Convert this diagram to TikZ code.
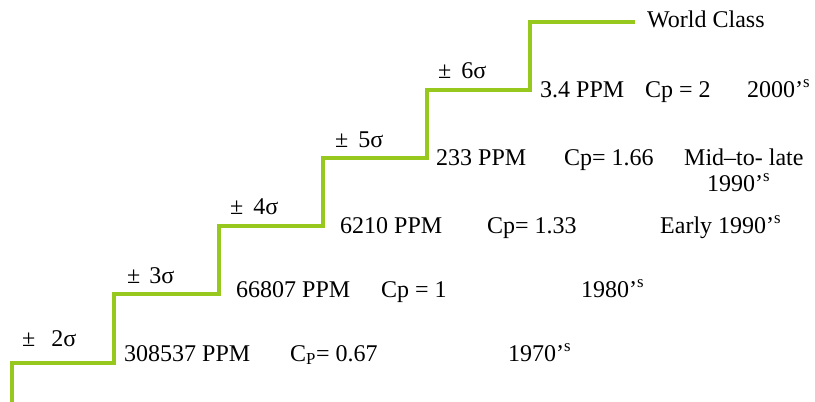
\documentclass[tikz,border=0pt]{standalone}
\usepackage{fontspec}
\setmainfont{Liberation Serif}
\definecolor{stairgreen}{RGB}{150,200,30}
\begin{document}
\begin{tikzpicture}[x=1pt,y=-1pt,
  lbl/.style={anchor=base west,inner sep=0pt,font=\fontsize{24}{28}\selectfont},
  stair/.style={draw=stairgreen,line width=3.2pt,line join=miter}]
\useasboundingbox (0,0) rectangle (815,402);
% staircase
\coordinate (s0) at (12,402);
\coordinate (s1) at (12,363);
\coordinate (s2) at (114,363);
\coordinate (s3) at (114,294);
\coordinate (s4) at (219,294);
\coordinate (s5) at (219,226);
\coordinate (s6) at (323,226);
\coordinate (s7) at (323,158);
\coordinate (s8) at (427,158);
\coordinate (s9) at (427,90);
\coordinate (s10) at (530,90);
\coordinate (s11) at (530,22);
\coordinate (s12) at (635,22);
\draw[stair] (s0) -- (s1) -- (s2) -- (s3) -- (s4) -- (s5) -- (s6) -- (s7) -- (s8) -- (s9) -- (s10) -- (s11) -- (s12);
% sigma labels
\node[lbl] (sg2) at (22,346) {±\hspace{16pt}2σ};
\node[lbl] (sg3) at (127,283) {±\hspace{9pt}3σ};
\node[lbl] (sg4) at (230,214) {±\hspace{10pt}4σ};
\node[lbl] (sg5) at (335,147) {±\hspace{10pt}5σ};
\node[lbl] (sg6) at (438,78) {±\hspace{10pt}6σ};
% row 1
\node[lbl] (p2) at (124,361) {308537 PPM};
\node[lbl] (c2) at (290,361) {C\textsubscript{P}= 0.67};
\node[lbl] (y2) at (508,361) {1970’\textsuperscript{s}};
% row 2
\node[lbl] (p3) at (236,297) {66807 PPM};
\node[lbl] (c3) at (381,297) {Cp = 1};
\node[lbl] (y3) at (581,297) {1980’\textsuperscript{s}};
% row 3
\node[lbl] (p4) at (340,233) {6210 PPM};
\node[lbl] (c4) at (487,233) {Cp= 1.33};
\node[lbl] (y4) at (660,233) {Early 1990’\textsuperscript{s}};
% row 4
\node[lbl] (p5) at (436,165) {233 PPM};
\node[lbl] (c5) at (564,165) {Cp= 1.66};
\node[lbl] (y5a) at (684,165) {Mid–to- late};
\node[lbl] (y5b) at (707,191) {1990’\textsuperscript{s}};
% row 5
\node[lbl] (p6) at (540,97) {3.4 PPM};
\node[lbl] (c6) at (645,97) {Cp = 2};
\node[lbl] (y6) at (747,97) {2000’\textsuperscript{s}};
% top
\node[lbl] (wc) at (647,27) {World Class};
\end{tikzpicture}
\end{document}
